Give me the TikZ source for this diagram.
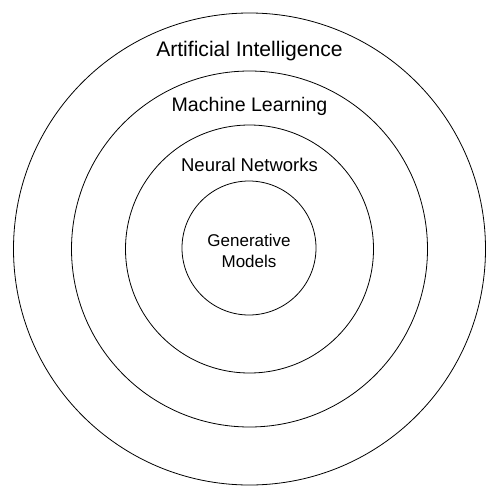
\documentclass[tikz,border=0pt]{standalone}
\usepackage{fontspec}
\setmainfont{Liberation Sans}
\begin{document}
\begin{tikzpicture}[x=1pt,y=-1pt,
  ring/.style={circle,draw=black,line width=0.8pt,minimum size=#1,inner sep=0pt},
  lbl/.style={anchor=base,inner sep=0pt,font=\fontsize{#1}{#1}\selectfont}]
\useasboundingbox (0,0) rectangle (499,499);
\node[ring=472pt] (ai) at (249.5,249) {};
\node[ring=356pt] (ml) at (249.5,249) {};
\node[ring=248pt] (nn) at (249.5,249) {};
\node[ring=134pt] (gm) at (249,248) {};
\node[lbl=21.1] (tai) at (249.5,56) {Artificial Intelligence};
\node[lbl=19.6] (tml) at (249.5,111) {Machine Learning};
\node[lbl=18.5] (tnn) at (249.5,171.7) {Neural Networks};
\node[lbl=17] (tgm1) at (249,246) {Generative};
\node[lbl=17] (tgm2) at (249,267.7) {Models};
\end{tikzpicture}
\end{document}
